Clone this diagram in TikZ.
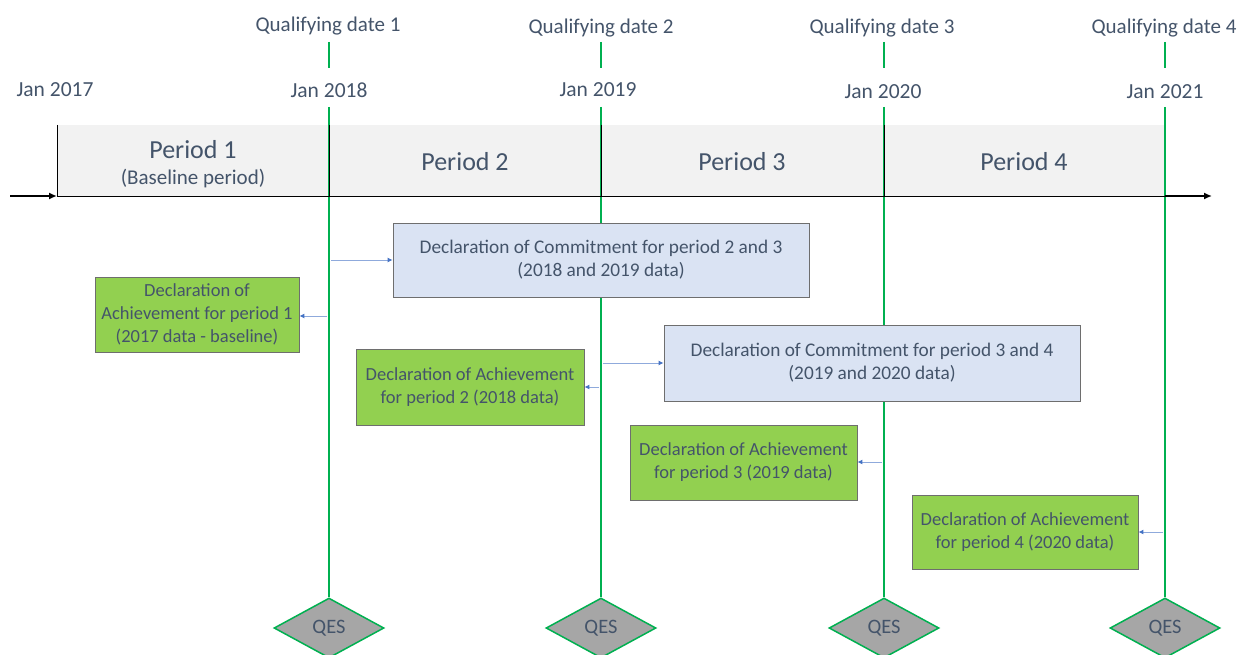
\documentclass[tikz,border=0pt]{standalone}
\usepackage{fontspec}
\setmainfont{Carlito}
\usetikzlibrary{shapes.geometric,arrows.meta}
\definecolor{txt}{HTML}{44546A}
\definecolor{qgreen}{HTML}{00B050}
\definecolor{dgreen}{HTML}{92D050}
\definecolor{dblue}{HTML}{DAE3F3}
\definecolor{arr}{HTML}{4472C4}
\definecolor{arrl}{HTML}{8FAADC}
\definecolor{band}{HTML}{F2F2F2}
\definecolor{bord}{HTML}{6E6E6E}
\tikzset{
  lbl/.style={text=txt,font=\fontsize{21}{24}\selectfont,inner sep=0pt},
  datelbl/.style={text=txt,font=\fontsize{21.5}{24}\selectfont,inner sep=0pt},
  perlbl/.style={text=txt,font=\fontsize{26}{30}\selectfont,inner sep=0pt},
  boxtxt/.style={text=txt,font=\fontsize{18.5}{23}\selectfont,align=center,inner sep=0pt},
  comtxt/.style={text=txt,font=\fontsize{19.3}{23}\selectfont,align=center,inner sep=0pt},
  achbox/.style={draw=bord,line width=0.8pt,fill=dgreen},
  combox/.style={draw=bord,line width=0.8pt,fill=dblue},
  qline/.style={draw=qgreen,line width=2.6pt},
  qes/.style={diamond,draw=qgreen,line width=1.5pt,fill=black!35,minimum width=110pt,minimum height=60pt,aspect=1.83,inner sep=0pt,text=txt,font=\fontsize{20.5}{23}\selectfont},
  barrow/.style={draw=arrl,line width=1pt,-{Latex[length=5pt,width=5pt,color=arr]}},
}
\begin{document}
\begin{tikzpicture}[x=1pt,y=-1pt]
\useasboundingbox (0,0) rectangle (1249,655);
% band
\fill[band] (57,125) rectangle (1165,196);
% vertical green lines: short segments
\foreach \x in {329,601,884,1165}{
  \draw[qline] (\x,42) -- (\x,68);
}
% QES diamonds
\node[qes] (qes1) at (329,628) {QES};
\node[qes] (qes2) at (601,628) {QES};
\node[qes] (qes3) at (884,628) {QES};
\node[qes] (qes4) at (1165,628) {QES};
\coordinate (t1) at (329,107);
\coordinate (t2) at (601,107);
\coordinate (t3) at (884,107);
\coordinate (t4) at (1165,107);
\draw[qline] (t1) -- (qes1.north);
\draw[qline] (t2) -- (qes2.north);
\draw[qline] (t3) -- (qes3.north);
\draw[qline] (t4) -- (qes4.north);
% band dividers
\draw[black,line width=0.8pt] (57,125) -- (57,196);
\draw[black,line width=0.8pt] (329,125) -- (329,196);
\draw[black,line width=0.8pt] (601,125) -- (601,196);
\draw[black,line width=0.8pt] (884,125) -- (884,196);
% axis
\coordinate (a0) at (10,196);
\coordinate (a1) at (57,196);
\coordinate (a2) at (1165,196);
\coordinate (a3) at (1212,196);
\draw[black,line width=2pt,-{Latex[length=8pt,width=7pt]}] (a0) -- (a1);
\draw[black,line width=0.9pt] (a1) -- (a2);
\draw[black,line width=2pt,-{Latex[length=8pt,width=7pt]}] (a2) -- (a3);
% labels
\node[lbl] (q1) at (328,26) {Qualifying date 1};
\node[lbl] (q2) at (601,28) {Qualifying date 2};
\node[lbl] (q3) at (882,28) {Qualifying date 3};
\node[lbl] (q4) at (1164,28) {Qualifying date 4};
\node[datelbl] (j17) at (55,90) {Jan 2017};
\node[datelbl] (j18) at (329,90) {Jan 2018};
\node[datelbl] (j19) at (598,90) {Jan 2019};
\node[datelbl] (j20) at (883,92) {Jan 2020};
\node[datelbl] (j21) at (1165,92) {Jan 2021};
\node[perlbl] (p1) at (193,150) {Period 1};
\node[lbl] (p1b) at (193,179) {(Baseline period)};
\node[perlbl] (p2) at (465,162) {Period 2};
\node[perlbl] (p3) at (742,162) {Period 3};
\node[perlbl] (p4) at (1024,162) {Period 4};
% boxes
\node[combox,minimum width=416pt,minimum height=74pt] (c23) at (601,260) {};
\node[comtxt] at (c23) {Declaration of Commitment for period 2 and 3\\(2018 and 2019 data)};
\node[achbox,minimum width=204pt,minimum height=75pt] (a1b) at (197,314.5) {};
\node[boxtxt] at (a1b) {Declaration of\\Achievement for period 1\\(2017 data - baseline)};
\node[combox,minimum width=416pt,minimum height=76pt] (c34) at (872,363) {};
\node[comtxt] at (c34) {Declaration of Commitment for period 3 and 4\\(2019 and 2020 data)};
\node[achbox,minimum width=228pt,minimum height=76pt] (a2b) at (470,387) {};
\node[boxtxt] at (a2b) {Declaration of Achievement\\for period 2 (2018 data)};
\node[achbox,minimum width=227pt,minimum height=75pt] (a3b) at (743.5,462.5) {};
\node[boxtxt] at (a3b) {Declaration of Achievement\\for period 3 (2019 data)};
\node[achbox,minimum width=226pt,minimum height=74pt] (a4b) at (1025,532) {};
\node[boxtxt] at (a4b) {Declaration of Achievement\\for period 4 (2020 data)};
% blue arrows
\coordinate (s1) at (331,260);
\coordinate (s2) at (327,316);
\coordinate (s3) at (603,363);
\coordinate (s4) at (599,387);
\coordinate (s5) at (882,462);
\coordinate (s6) at (1163,532);
\draw[barrow] (s1) -- (c23.west |- s1);
\draw[barrow] (s2) -- (a1b.east |- s2);
\draw[barrow] (s3) -- (c34.west |- s3);
\draw[barrow] (s4) -- (a2b.east |- s4);
\draw[barrow] (s5) -- (a3b.east |- s5);
\draw[barrow] (s6) -- (a4b.east |- s6);
\end{tikzpicture}
\end{document}
